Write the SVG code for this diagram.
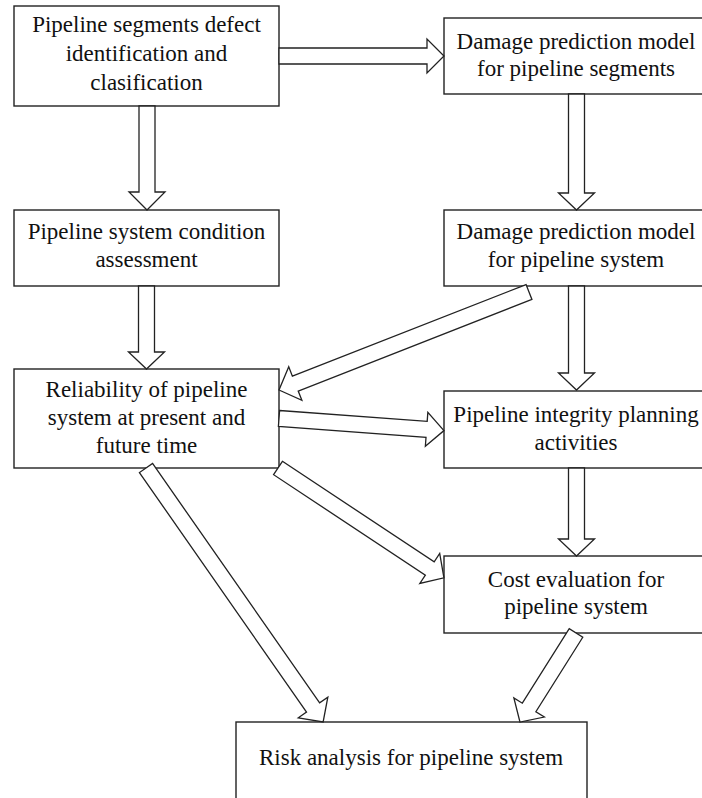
<svg xmlns="http://www.w3.org/2000/svg" width="702" height="798" viewBox="0 0 702 798">
<style>
.box{fill:#fff;stroke:#222;stroke-width:1.4}
.t{font-family:"Liberation Serif","Times New Roman",serif;font-size:23px;fill:#111;text-anchor:middle}
.arr{fill:#fff;stroke:#222;stroke-width:1.3;stroke-linejoin:miter}
</style>
<rect width="702" height="798" fill="#fff"/>
<g id="n1"><rect class="box" x="14" y="6" width="265" height="100"/>
<text class="t" x="146.5" y="32">Pipeline segments defect</text>
<text class="t" x="146.5" y="61">identification and</text>
<text class="t" x="146.5" y="90">clasification</text></g>
<g id="n2"><rect class="box" x="444" y="18" width="265" height="76"/>
<text class="t" x="576" y="49">Damage prediction model</text>
<text class="t" x="576" y="76">for pipeline segments</text></g>
<g id="n3"><rect class="box" x="14" y="210" width="265" height="76"/>
<text class="t" x="146.5" y="239">Pipeline system condition</text>
<text class="t" x="146.5" y="267">assessment</text></g>
<g id="n4"><rect class="box" x="444" y="210" width="265" height="76"/>
<text class="t" x="576" y="239">Damage prediction model</text>
<text class="t" x="576" y="267">for pipeline system</text></g>
<g id="n5"><rect class="box" x="14" y="369" width="265" height="99"/>
<text class="t" x="146.5" y="397">Reliability of pipeline</text>
<text class="t" x="146.5" y="425">system at present and</text>
<text class="t" x="146.5" y="453">future time</text></g>
<g id="n6"><rect class="box" x="444" y="391" width="265" height="77"/>
<text class="t" x="576" y="422">Pipeline integrity planning</text>
<text class="t" x="576" y="450">activities</text></g>
<g id="n7"><rect class="box" x="444" y="556" width="265" height="77"/>
<text class="t" x="576" y="587">Cost evaluation for</text>
<text class="t" x="576" y="614">pipeline system</text></g>
<g id="n8"><rect class="box" x="236" y="722" width="351" height="90"/>
<text class="t" x="411" y="765">Risk analysis for pipeline system</text></g>
<g id="connectors">
<path class="arr" transform="translate(279,56)" d="M0,-8 H148 V-17 L165,0 L148,17 V8 H0 Z"/>
<path class="arr" transform="translate(147,106) rotate(90)" d="M0,-8 H86 V-18 L104,0 L86,18 V8 H0 Z"/>
<path class="arr" transform="translate(576.5,94) rotate(90)" d="M0,-8 H99 V-18 L116,0 L99,18 V8 H0 Z"/>
<path class="arr" transform="translate(146.5,286) rotate(90)" d="M0,-8 H66 V-18 L83,0 L66,18 V8 H0 Z"/>
<path class="arr" transform="translate(576.5,286) rotate(90)" d="M0,-8 H87 V-18 L104,0 L87,18 V8 H0 Z"/>
<path class="arr" transform="translate(576.5,468) rotate(90)" d="M0,-8 H71 V-18 L88,0 L71,18 V8 H0 Z"/>
<path class="arr" transform="translate(529,292) rotate(158.6)" d="M0,-8 H251 V-18 L268.5,0 L251,18 V8 H0 Z"/>
<path class="arr" transform="translate(279,418.5) rotate(4.2)" d="M0,-8 H148 V-17 L165.4,0 L148,17 V8 H0 Z"/>
<path class="arr" transform="translate(278,468) rotate(33.5)" d="M0,-8 H182 V-18 L199,0 L182,18 V8 H0 Z"/>
<path class="arr" transform="translate(146,468) rotate(55.1)" d="M0,-8 H292 V-18 L309.6,0 L292,18 V8 H0 Z"/>
<path class="arr" transform="translate(576,633) rotate(122.2)" d="M0,-8 H88 V-18 L105.2,0 L88,18 V8 H0 Z"/>
</g>
</svg>
